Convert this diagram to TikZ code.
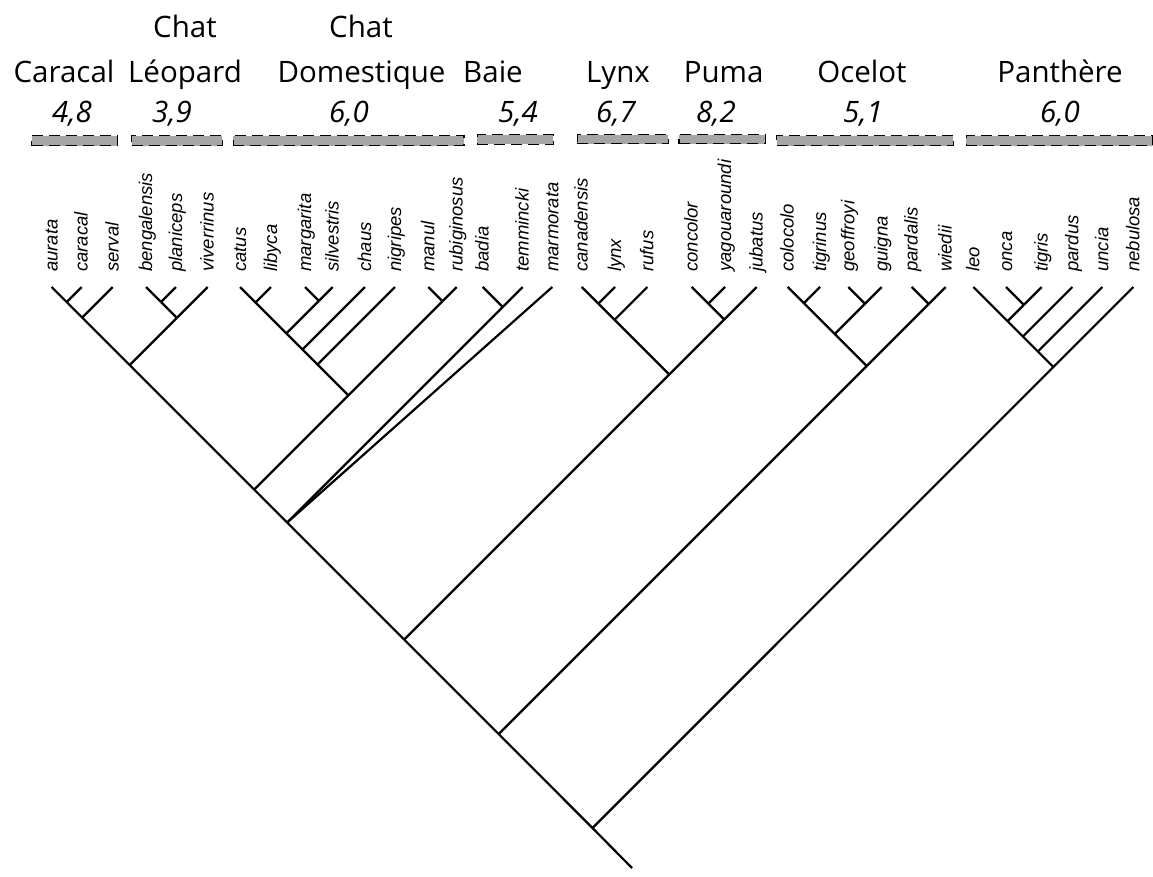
\documentclass[tikz,border=0pt]{standalone}
\usepackage{fontspec}
\setmainfont{Open Sans}
\newfontfamily\spfont{Liberation Sans}
\begin{document}
\begin{tikzpicture}[x=1pt,y=-1pt,
  edge/.style={line width=2.2pt,line cap=butt,line join=miter},
  grpbox/.style={draw=black,fill=black!35,line width=1.3pt,dash pattern=on 11pt off 6pt,inner sep=0pt,anchor=north west},
  grp/.style={font=\fontsize{29.5}{34}\selectfont,anchor=base,inner sep=0pt},
  val/.style={font=\fontsize{29.5}{34}\selectfont\itshape,anchor=base,inner sep=0pt},
  sp/.style={font=\spfont\itshape\fontsize{18.5}{20}\selectfont,rotate=90,anchor=base west,inner sep=0pt}]
\useasboundingbox (0,0) rectangle (1153,876);
% leaves
\foreach \n/\x in {aurata/51.7,caracal/81.7,serval/112.7,bengalensis/146,planiceps/176,viverrinus/207.7,
  catus/240,libyca/271,margarita/305,silvestris/332.7,chaus/365,nigripes/395,manul/428.3,rubiginosus/456.7,
  badia/482.7,temmincki/522.7,marmorata/552.3,canadensis/581.7,lynx/615,rufus/647.3,
  concolor/691.7,yagouaroundi/725,jubatus/756.7,colocolo/787.7,tigrinus/820,geoffroyi/848.3,guigna/881.7,
  pardalis/911.7,wiedii/945.7,leo/973.3,onca/1006,tigris/1041.7,pardus/1072.3,uncia/1102.3,nebulosa/1133.3}{
  \coordinate (l-\n) at (\x,287);
  \node[sp] (t-\n) at (\x+6,272) {\n};
}
% internal nodes
\coordinate (nac) at (66.7,302);
\coordinate (ncar) at (82.2,317.5);
\coordinate (nbp) at (161,302);
\coordinate (nleo) at (176.85,317.85);
\coordinate (n1) at (129.7,365);
\coordinate (ncl) at (255.5,302.5);
\coordinate (nms) at (318.85,300.85);
\coordinate (ncs) at (286.35,333.35);
\coordinate (nch) at (302.5,349.5);
\coordinate (nni) at (317.5,364.5);
\coordinate (nmr) at (442.5,301.2);
\coordinate (nfel) at (348.35,395.35);
\coordinate (n2) at (254.2,489.5);
\coordinate (nbt) at (502.7,307);
\coordinate (n3) at (287.2,522.5);
\coordinate (ncly) at (598.35,303.65);
\coordinate (nlyn) at (614.5,319.8);
\coordinate (ncy) at (708.35,303.65);
\coordinate (npum) at (724.2,319.5);
\coordinate (nlp) at (669.2,374.5);
\coordinate (n4) at (404.2,639.5);
\coordinate (nct) at (803.85,303.15);
\coordinate (ngg) at (865,303.7);
\coordinate (ncg) at (834.7,334);
\coordinate (npw) at (928.7,304);
\coordinate (noce) at (866.7,366);
\coordinate (n5) at (498.7,734);
\coordinate (not) at (1023.85,304.85);
\coordinate (nlot) at (1007.5,321.2);
\coordinate (npd) at (1022.8,336.5);
\coordinate (nun) at (1037.8,351.5);
\coordinate (npan) at (1053.3,367);
\coordinate (n6) at (592.5,828);
\coordinate (root) at (632,868);
% edges
\foreach \a/\b in {l-aurata/nac,l-caracal/nac,nac/ncar,l-serval/ncar,
  l-bengalensis/nbp,l-planiceps/nbp,nbp/nleo,l-viverrinus/nleo,ncar/n1,nleo/n1,
  l-catus/ncl,l-libyca/ncl,l-margarita/nms,l-silvestris/nms,ncl/ncs,nms/ncs,ncs/nch,l-chaus/nch,
  nch/nni,l-nigripes/nni,l-manul/nmr,l-rubiginosus/nmr,nni/nfel,nmr/nfel,n1/n2,nfel/n2,
  l-badia/nbt,l-temmincki/nbt,n2/n3,nbt/n3,l-marmorata/n3,
  l-canadensis/ncly,l-lynx/ncly,ncly/nlyn,l-rufus/nlyn,
  l-concolor/ncy,l-yagouaroundi/ncy,ncy/npum,l-jubatus/npum,nlyn/nlp,npum/nlp,n3/n4,nlp/n4,
  l-colocolo/nct,l-tigrinus/nct,l-geoffroyi/ngg,l-guigna/ngg,nct/ncg,ngg/ncg,
  l-pardalis/npw,l-wiedii/npw,ncg/noce,npw/noce,n4/n5,noce/n5,
  l-onca/not,l-tigris/not,l-leo/nlot,not/nlot,nlot/npd,l-pardus/npd,npd/nun,l-uncia/nun,
  nun/npan,l-nebulosa/npan,n5/n6,npan/n6,n6/root}{
  \draw[edge] (\a) -- (\b);
}
% group boxes
\node[grpbox,minimum width=85.7pt,minimum height=10pt] (b-car) at (31,135) {};
\node[grpbox,minimum width=90.7pt,minimum height=10pt] (b-leo) at (131,135) {};
\node[grpbox,minimum width=230.6pt,minimum height=10pt] (b-dom) at (232.7,135) {};
\node[grpbox,minimum width=76pt,minimum height=9.5pt] (b-baie) at (476.7,134) {};
\node[grpbox,minimum width=91pt,minimum height=9pt] (b-lynx) at (576.7,134) {};
\node[grpbox,minimum width=86.7pt,minimum height=9pt] (b-puma) at (678.3,134) {};
\node[grpbox,minimum width=176.7pt,minimum height=10pt] (b-oce) at (776,135) {};
\node[grpbox,minimum width=186.3pt,minimum height=10pt] (b-pan) at (965.7,135) {};
% group names
\node[grp] (g-car) at (64,82.5) {Caracal};
\node[grp] (g-leo1) at (185,37.5) {Chat};
\node[grp] (g-leo2) at (185,82.5) {Léopard};
\node[grp] (g-dom1) at (361,37.5) {Chat};
\node[grp] (g-dom2) at (361.5,82.5) {Domestique};
\node[grp] (g-baie) at (493,82.5) {Baie};
\node[grp] (g-lynx) at (618,82.5) {Lynx};
\node[grp] (g-puma) at (723.6,82.5) {Puma};
\node[grp] (g-oce) at (862,82.5) {Ocelot};
\node[grp] (g-pan) at (1060,82.5) {Panthère};
% values
\node[val] (v-car) at (72,122) {4,8};
\node[val] (v-leo) at (172,122) {3,9};
\node[val] (v-dom) at (349,122) {6,0};
\node[val] (v-baie) at (518,122) {5,4};
\node[val] (v-lynx) at (616,122) {6,7};
\node[val] (v-puma) at (716,122) {8,2};
\node[val] (v-oce) at (863,122) {5,1};
\node[val] (v-pan) at (1060,122) {6,0};
\end{tikzpicture}
\end{document}
